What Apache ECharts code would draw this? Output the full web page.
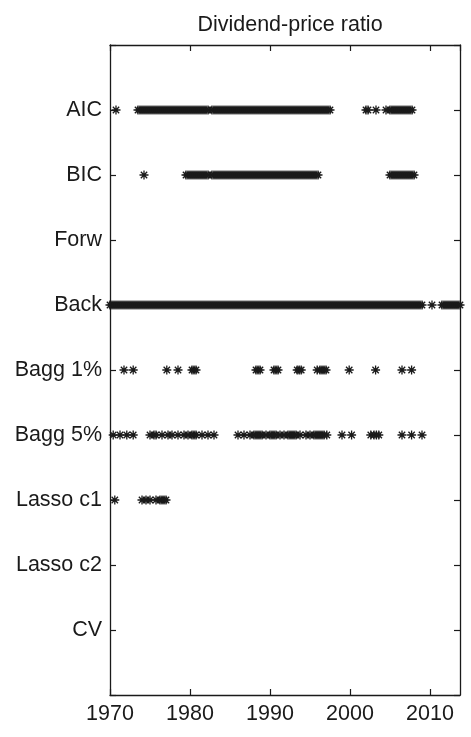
<!DOCTYPE html>
<html>
<head>
<meta charset="utf-8">
<script src="https://cdn.jsdelivr.net/npm/echarts@6/dist/echarts.min.js"></script>
<style>
html,body{margin:0;padding:0;background:#fff;}
#chart{width:471px;height:737px;}
</style>
</head>
<body>
<div id="chart"></div>
<script>
const title = 'Dividend-price ratio';
const categories = ['AIC', 'BIC', 'Forw', 'Back', 'Bagg 1%', 'Bagg 5%', 'Lasso c1', 'Lasso c2', 'CV'];
const xTickLabels = [1970, 1980, 1990, 2000, 2010];

// Dates (fractional years) at which the dividend-price ratio is selected, per method
const aic = [1970.75,
  1973.5, 1973.75,
  1974, 1974.25, 1974.5, 1974.75, 1975, 1975.25, 1975.5, 1975.75,
  1976, 1976.25, 1976.5, 1976.75, 1977, 1977.25, 1977.5, 1977.75,
  1978, 1978.25, 1978.5, 1978.75, 1979, 1979.25, 1979.5, 1979.75,
  1980, 1980.25, 1980.5, 1980.75, 1981, 1981.25, 1981.5, 1981.75,
  1982, 1982.25, 1982.75, 1983, 1983.25, 1983.5, 1983.75,
  1984, 1984.25, 1984.5, 1984.75, 1985, 1985.25, 1985.5, 1985.75,
  1986, 1986.25, 1986.5, 1986.75, 1987, 1987.25, 1987.5, 1987.75,
  1988, 1988.25, 1988.5, 1988.75, 1989, 1989.25, 1989.5, 1989.75,
  1990, 1990.25, 1990.5, 1990.75, 1991, 1991.25, 1991.5, 1991.75,
  1992, 1992.25, 1992.5, 1992.75, 1993, 1993.25, 1993.5, 1993.75,
  1994, 1994.25, 1994.5, 1994.75, 1995, 1995.25, 1995.5, 1995.75,
  1996, 1996.25, 1996.5, 1996.75, 1997, 1997.25, 1997.5,
  2002, 2002.25, 2003.25, 2004.5,
  2005, 2005.25, 2005.5, 2005.75, 2006, 2006.25, 2006.5, 2006.75,
  2007, 2007.25, 2007.5, 2007.75];

const bic = [1974.25,
  1979.5, 1979.75,
  1980, 1980.25, 1980.5, 1980.75, 1981, 1981.25, 1981.5, 1981.75,
  1982, 1982.25, 1982.75, 1983, 1983.25, 1983.5, 1983.75,
  1984, 1984.25, 1984.5, 1984.75, 1985, 1985.25, 1985.5, 1985.75,
  1986, 1986.25, 1986.5, 1986.75, 1987, 1987.25, 1987.5, 1987.75,
  1988, 1988.25, 1988.5, 1988.75, 1989, 1989.25, 1989.5, 1989.75,
  1990, 1990.25, 1990.5, 1990.75, 1991, 1991.25, 1991.5, 1991.75,
  1992, 1992.25, 1992.5, 1992.75, 1993, 1993.25, 1993.5, 1993.75,
  1994, 1994.25, 1994.5, 1994.75, 1995, 1995.25, 1995.5, 1995.75,
  1996,
  2005, 2005.25, 2005.5, 2005.75, 2006, 2006.25, 2006.5, 2006.75,
  2007, 2007.25, 2007.5, 2007.75, 2008];

const forw = [];

const back = [
  1970, 1970.25, 1970.5, 1970.75, 1971, 1971.25, 1971.5, 1971.75,
  1972, 1972.25, 1972.5, 1972.75, 1973, 1973.25, 1973.5, 1973.75,
  1974, 1974.25, 1974.5, 1974.75, 1975, 1975.25, 1975.5, 1975.75,
  1976, 1976.25, 1976.5, 1976.75, 1977, 1977.25, 1977.5, 1977.75,
  1978, 1978.25, 1978.5, 1978.75, 1979, 1979.25, 1979.5, 1979.75,
  1980, 1980.25, 1980.5, 1980.75, 1981, 1981.25, 1981.5, 1981.75,
  1982, 1982.25, 1982.5, 1982.75, 1983, 1983.25, 1983.5, 1983.75,
  1984, 1984.25, 1984.5, 1984.75, 1985, 1985.25, 1985.5, 1985.75,
  1986, 1986.25, 1986.5, 1986.75, 1987, 1987.25, 1987.5, 1987.75,
  1988, 1988.25, 1988.5, 1988.75, 1989, 1989.25, 1989.5, 1989.75,
  1990, 1990.25, 1990.5, 1990.75, 1991, 1991.25, 1991.5, 1991.75,
  1992, 1992.25, 1992.5, 1992.75, 1993, 1993.25, 1993.5, 1993.75,
  1994, 1994.25, 1994.5, 1994.75, 1995, 1995.25, 1995.5, 1995.75,
  1996, 1996.25, 1996.5, 1996.75, 1997, 1997.25, 1997.5, 1997.75,
  1998, 1998.25, 1998.5, 1998.75, 1999, 1999.25, 1999.5, 1999.75,
  2000, 2000.25, 2000.5, 2000.75, 2001, 2001.25, 2001.5, 2001.75,
  2002, 2002.25, 2002.5, 2002.75, 2003, 2003.25, 2003.5, 2003.75,
  2004, 2004.25, 2004.5, 2004.75, 2005, 2005.25, 2005.5, 2005.75,
  2006, 2006.25, 2006.5, 2006.75, 2007, 2007.25, 2007.5, 2007.75,
  2008, 2008.25, 2008.5, 2008.75, 2009,
  2010.25,
  2011.5, 2011.75, 2012, 2012.25, 2012.5, 2012.75, 2013, 2013.25, 2013.5, 2013.75];

const bagg1 = [1971.75, 1972.9, 1977.1, 1978.5,
  1980.25, 1980.5, 1980.75,
  1988.25, 1988.5, 1988.75,
  1990.5, 1990.75, 1991,
  1993.4, 1993.65, 1993.9,
  1995.9, 1996.25, 1996.5, 1996.75, 1997,
  1999.9, 2003.2, 2006.5, 2007.7];

const bagg5 = [1970.4, 1971.25, 1972.1, 1972.9,
  1975, 1975.5, 1975.75, 1976.5, 1977.25, 1977.75, 1978.5, 1979.25,
  1979.75, 1980.25, 1980.5, 1980.75, 1981.5, 1982.25, 1983,
  1986, 1986.75, 1987.5, 1988, 1988.25, 1988.5, 1988.75, 1989, 1989.5,
  1990, 1990.25, 1990.5, 1990.75, 1991.25, 1991.75, 1992.25, 1992.5,
  1992.75, 1993, 1993.25, 1993.75, 1994.5, 1995, 1995.5, 1995.75,
  1996, 1996.25, 1996.5, 1996.75, 1997.1,
  1999, 2000.2,
  2002.6, 2003, 2003.3, 2003.6,
  2006.5, 2007.7, 2009];

const lassoC1 = [1970.6, 1974, 1974.5, 1975, 1975.75, 1976.25, 1976.5, 1976.75, 1977];
const lassoC2 = [];
const cv = [];

const rows = [aic, bic, forw, back, bagg1, bagg5, lassoC1, lassoC2, cv];

const points = [];
rows.forEach((r, i) => r.forEach(x => points.push([x, i + 1])));

const FONT = '"Liberation Sans", Arial, Helvetica, sans-serif';
const INK = '#1a1a1a';
const ASTERISK = 'path://M5,0L5,10M0,5L10,5M1.46,1.46L8.54,8.54M1.46,8.54L8.54,1.46';

const chart = echarts.init(document.getElementById('chart'), null, {renderer: 'canvas'});

const xCommon = {
  type: 'value', min: xTickLabels[0], max: 2013.75, interval: 10,
  splitLine: {show: false},
  axisLine: {show: true, onZero: false, lineStyle: {color: INK, width: 1.3}},
  axisTick: {show: true, inside: true, length: 6, lineStyle: {color: INK, width: 1.2}}
};
const yCommon = {
  type: 'value', min: 0, max: categories.length + 1, interval: 1, inverse: true,
  splitLine: {show: false},
  axisLine: {show: true, onZero: false, lineStyle: {color: INK, width: 1.3}},
  axisTick: {show: true, inside: true, length: 6, lineStyle: {color: INK, width: 1.2}}
};

chart.setOption({
  animation: false,
  backgroundColor: '#fff',
  title: {
    text: title, left: 285, top: 9, textAlign: 'center',
    textStyle: {fontFamily: FONT, fontSize: 21.5, fontWeight: 'normal', color: INK}
  },
  grid: {left: 110, right: 11, top: 45, bottom: 42, containLabel: false},
  xAxis: [
    Object.assign({}, xCommon, {
      position: 'bottom',
      axisLabel: {
        show: true, showMaxLabel: false, margin: 8,
        fontFamily: FONT, fontSize: 21.5, color: INK,
        formatter: v => (xTickLabels.indexOf(v) >= 0 ? String(v) : '')
      }
    }),
    Object.assign({}, xCommon, {position: 'top', axisLabel: {show: false}})
  ],
  yAxis: [
    Object.assign({}, yCommon, {
      position: 'left',
      axisLabel: {
        show: true, margin: 8, fontFamily: FONT, fontSize: 21.5, color: INK,
        formatter: v => categories[v - 1] || ''
      }
    }),
    Object.assign({}, yCommon, {position: 'right', axisLabel: {show: false}})
  ],
  series: [{
    type: 'scatter',
    xAxisIndex: 0, yAxisIndex: 0,
    data: points,
    symbol: ASTERISK,
    symbolSize: 9,
    clip: false,
    large: false,
    silent: true,
    itemStyle: {color: 'rgba(0,0,0,0)', borderColor: INK, borderWidth: 1.3, opacity: 1}
  }]
});
</script>
</body>
</html>
